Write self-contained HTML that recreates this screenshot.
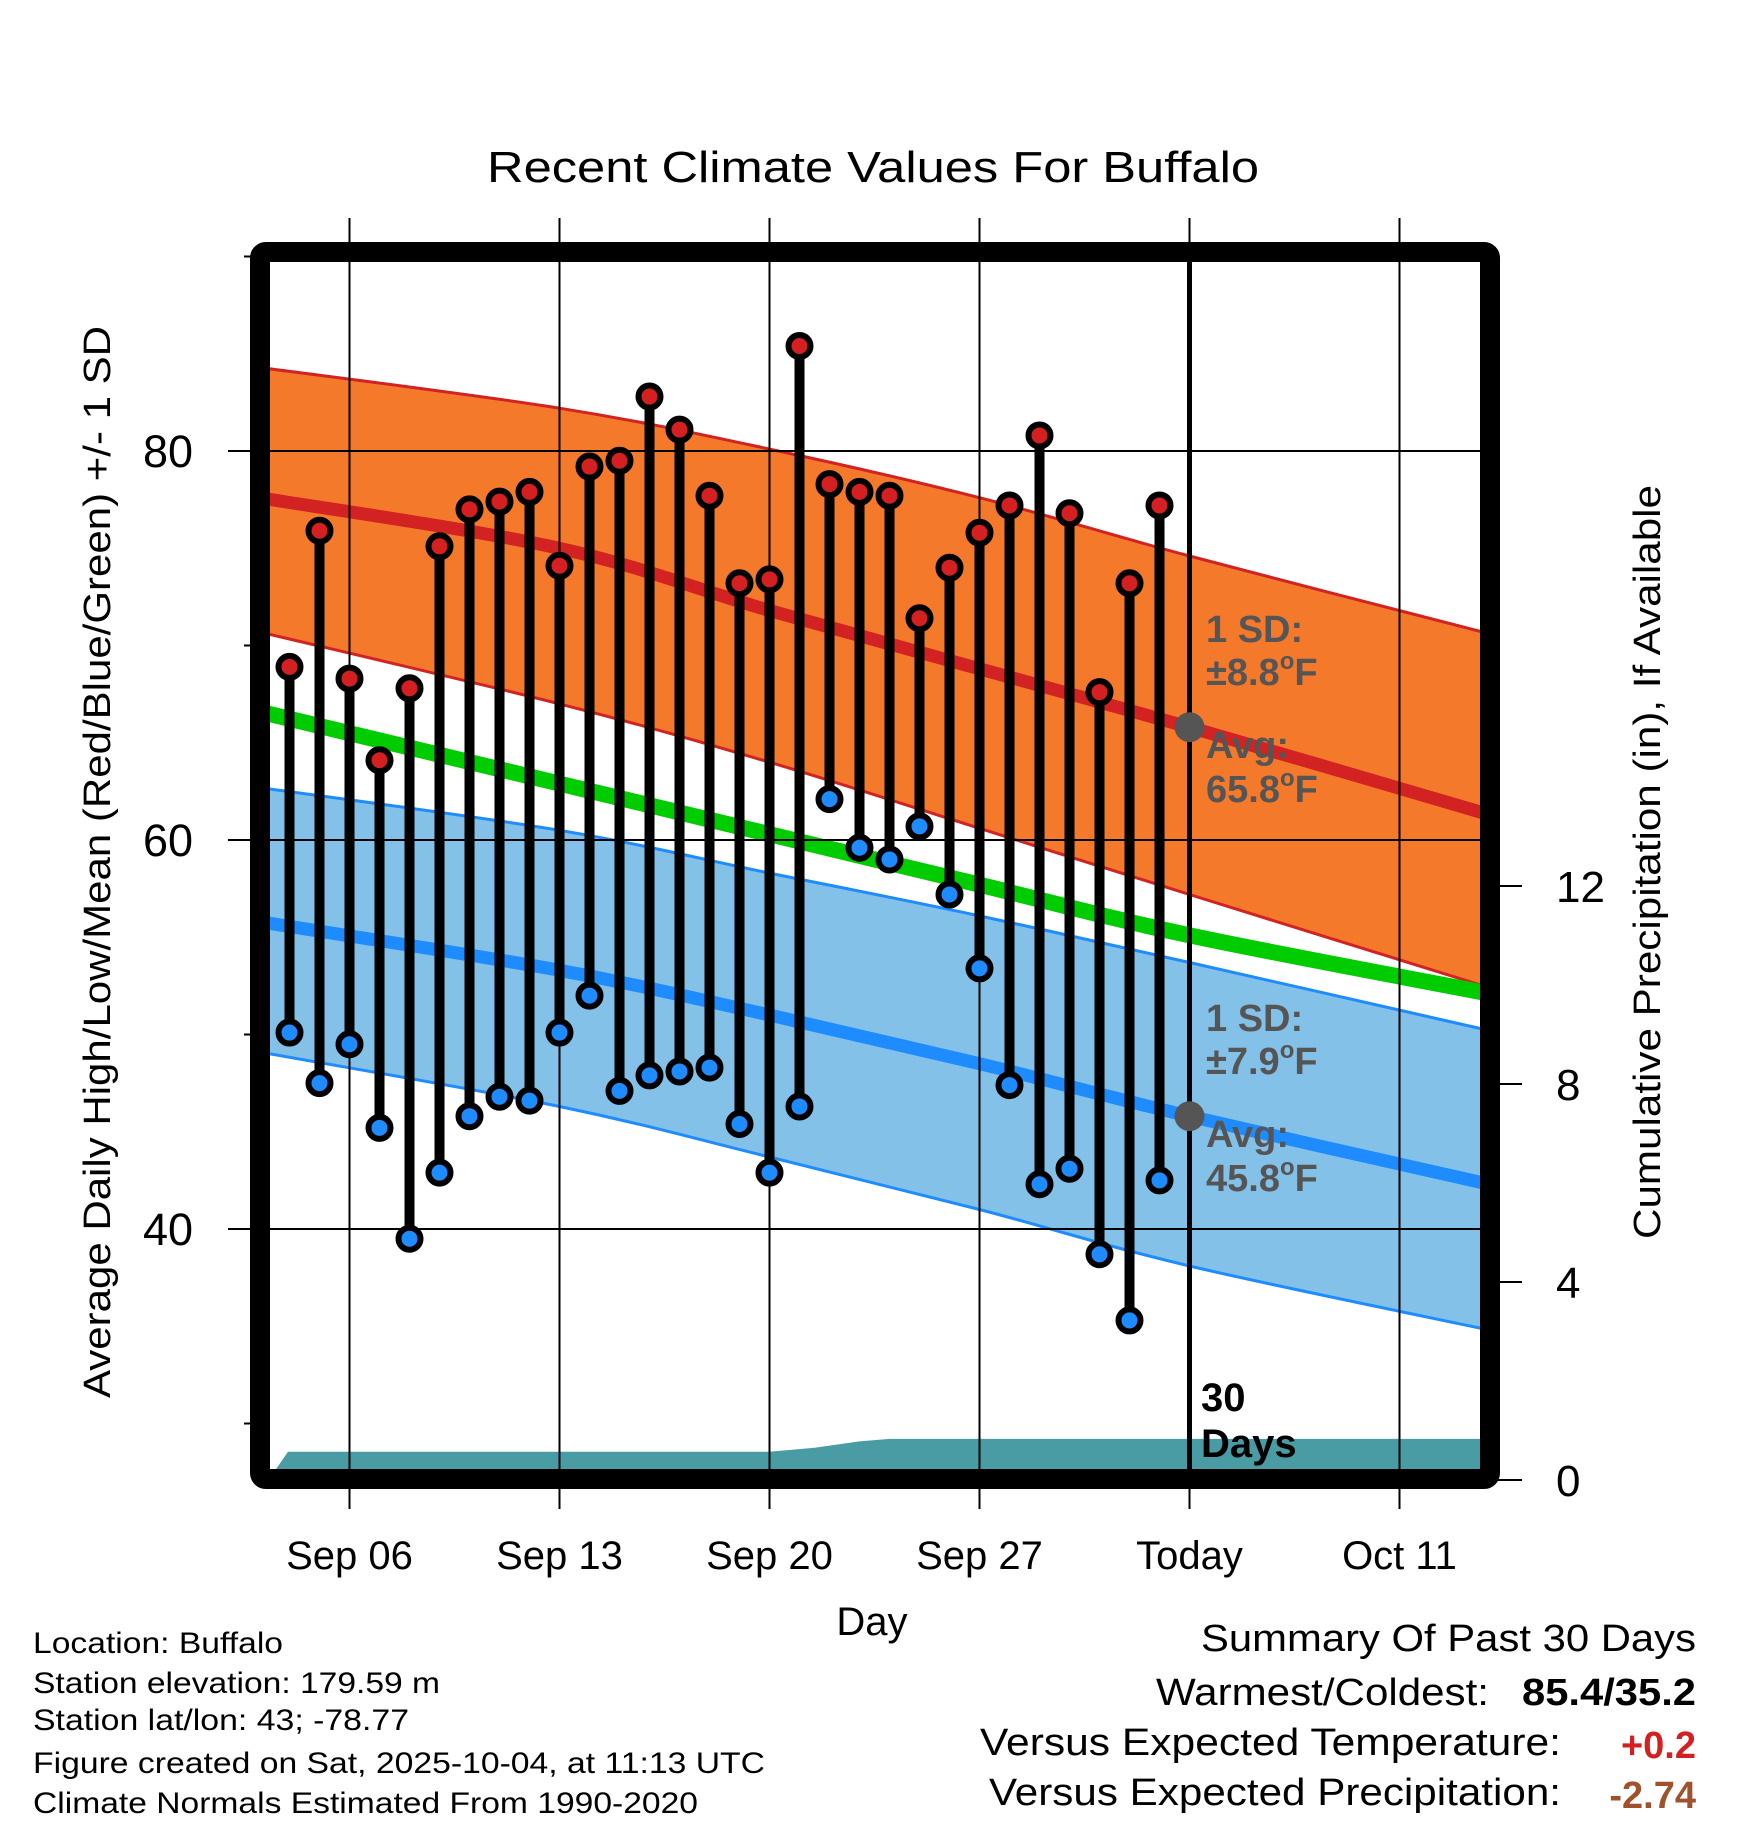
<!DOCTYPE html>
<html><head><meta charset="utf-8"><style>
html,body{margin:0;padding:0;background:#fff}
svg{display:block;font-family:"Liberation Sans",sans-serif}
</style></head><body>
<svg id="chart" width="1748" height="1828" viewBox="0 0 1748 1828" xmlns="http://www.w3.org/2000/svg">
<defs><clipPath id="plotclip"><rect x="270" y="262" width="1210" height="1207"/></clipPath></defs>
<text x="873" y="182" font-size="44" text-anchor="middle" textLength="772" lengthAdjust="spacingAndGlyphs">Recent Climate Values For Buffalo</text>
<g id="plot" clip-path="url(#plotclip)"></g>
<g id="overlay"></g>
<rect x="260" y="252" width="1230" height="1227" rx="6" fill="none" stroke="#000" stroke-width="20"/>
<g id="axes"></g>
<text x="872" y="1635" font-size="40" text-anchor="middle">Day</text>
<text transform="translate(110,862) rotate(-90)" font-size="38" text-anchor="middle" textLength="1072" lengthAdjust="spacingAndGlyphs">Average Daily High/Low/Mean (Red/Blue/Green) +/- 1 SD</text>
<text transform="translate(1660,862) rotate(-90)" font-size="38" text-anchor="middle" textLength="754" lengthAdjust="spacingAndGlyphs">Cumulative Precipitation (in), If Available</text>
<g font-size="30">
<text x="33" y="1653" textLength="250" lengthAdjust="spacingAndGlyphs">Location: Buffalo</text>
<text x="33" y="1693" textLength="407" lengthAdjust="spacingAndGlyphs">Station elevation: 179.59 m</text>
<text x="33" y="1730" textLength="376" lengthAdjust="spacingAndGlyphs">Station lat/lon: 43; -78.77</text>
<text x="33" y="1773" textLength="732" lengthAdjust="spacingAndGlyphs">Figure created on Sat, 2025-10-04, at 11:13 UTC</text>
<text x="33" y="1813" textLength="665" lengthAdjust="spacingAndGlyphs">Climate Normals Estimated From 1990-2020</text>
</g>
<g font-size="38">
<text x="1696" y="1651" text-anchor="end" textLength="495" lengthAdjust="spacingAndGlyphs">Summary Of Past 30 Days</text>
<text x="1489" y="1705" text-anchor="end" textLength="333" lengthAdjust="spacingAndGlyphs">Warmest/Coldest:</text>
<text x="1696" y="1705" text-anchor="end" font-weight="bold" textLength="174" lengthAdjust="spacingAndGlyphs">85.4/35.2</text>
<text x="1561" y="1755" text-anchor="end" textLength="581" lengthAdjust="spacingAndGlyphs">Versus Expected Temperature:</text>
<text x="1696" y="1758" text-anchor="end" font-weight="bold" fill="#d42020">+0.2</text>
<text x="1561" y="1805" text-anchor="end" textLength="572" lengthAdjust="spacingAndGlyphs">Versus Expected Precipitation:</text>
<text x="1696" y="1808" text-anchor="end" font-weight="bold" fill="#a0522d">-2.74</text>
</g>
</svg>
<script>
// ---- data ----
const obsDays = [-2,-1,0,1,2,3,4,5,6,7,8,9,10,11,12,13,14,15,16,17,18,19,20,21,22,23,24,25,26,27]; // days since Sep 06
const highs = [68.9,75.9,68.3,64.1,67.8,75.1,77.0,77.4,77.9,74.1,79.2,79.5,82.8,81.1,77.7,73.2,73.4,85.4,78.3,77.9,77.7,71.4,74.0,75.8,77.2,80.8,76.8,67.6,73.2,77.2];
const lows = [50.1,47.5,49.5,45.2,39.5,42.9,45.8,46.8,46.6,50.1,52.0,47.1,47.9,48.1,48.3,45.4,42.9,46.3,62.1,59.6,59.0,60.7,57.2,53.4,47.4,42.3,43.1,38.7,35.3,42.5];
const normDays = [-3,7,14,21,28,38];
const highUpper = [84.3,82.2,80.1,77.6,74.6,70.6];
const highAvg = [77.6,75.0,71.8,68.8,65.8,61.3];
const highLower = [70.7,67.0,64.0,60.6,57.2,52.4];
const meanAvg = [66.6,62.9,60.3,57.7,55.1,52.1];
const lowUpper = [62.7,60.5,58.3,56.1,53.7,50.2];
const lowAvg = [55.8,53.3,51.0,48.5,45.8,42.3];
const lowLower = [49.1,46.3,43.7,41.0,38.1,34.8];
const precipDays = [-2.7,-2.05,14,15.5,17,18,28,38];
const precipVals = [0,0.57,0.57,0.65,0.78,0.83,0.83,0.83];
const xTickDays = [0,7,14,21,28,35];
const xTickLabels = ["Sep 06","Sep 13","Sep 20","Sep 27","Today","Oct 11"];
const yMajor = [40,60,80];
const yMinor = [30,50,70,90];
const y2Ticks = [0,4,8,12];
const todayDay = 28;
// ---- scales ----
const NS="http://www.w3.org/2000/svg";
const X = d => 349.5 + d*30;
const Y = t => 451 - (t-80)*19.45;
const Y2 = p => 1480 - p*49.5;
const plot=document.getElementById('plot'), ov=document.getElementById('overlay'), ax=document.getElementById('axes');
function mk(tag, attrs, parent){const e=document.createElementNS(NS,tag);for(const k in attrs)e.setAttribute(k,attrs[k]);parent.appendChild(e);return e;}
function pts(days, vals, fy){return days.map((d,i)=>X(d).toFixed(1)+','+fy(vals[i]).toFixed(1));}
// Catmull-Rom smooth path through points
function smoothPts(vals){
  const P = normDays.map((d,i)=>[X(d),Y(vals[i])]);
  let s = 'M'+P[0][0].toFixed(1)+','+P[0][1].toFixed(1);
  for(let i=0;i<P.length-1;i++){
    const p0=P[Math.max(0,i-1)],p1=P[i],p2=P[i+1],p3=P[Math.min(P.length-1,i+2)];
    const c1=[p1[0]+(p2[0]-p0[0])/6,p1[1]+(p2[1]-p0[1])/6];
    const c2=[p2[0]-(p3[0]-p1[0])/6,p2[1]-(p3[1]-p1[1])/6];
    s+=' C'+c1[0].toFixed(1)+','+c1[1].toFixed(1)+' '+c2[0].toFixed(1)+','+c2[1].toFixed(1)+' '+p2[0].toFixed(1)+','+p2[1].toFixed(1);
  }
  return s;
}
function smoothRev(vals){
  const P = normDays.map((d,i)=>[X(d),Y(vals[i])]).reverse();
  let s = ' L'+P[0][0].toFixed(1)+','+P[0][1].toFixed(1);
  for(let i=0;i<P.length-1;i++){
    const p0=P[Math.max(0,i-1)],p1=P[i],p2=P[i+1],p3=P[Math.min(P.length-1,i+2)];
    const c1=[p1[0]+(p2[0]-p0[0])/6,p1[1]+(p2[1]-p0[1])/6];
    const c2=[p2[0]-(p3[0]-p1[0])/6,p2[1]-(p3[1]-p1[1])/6];
    s+=' C'+c1[0].toFixed(1)+','+c1[1].toFixed(1)+' '+c2[0].toFixed(1)+','+c2[1].toFixed(1)+' '+p2[0].toFixed(1)+','+p2[1].toFixed(1);
  }
  return s+' Z';
}
function band(up, lo, fill, name){
  const e = mk('path',{d:smoothPts(up)+smoothRev(lo),fill:fill},plot);
  
  
}
function line(vals, color, w, name){
  const e = mk('path',{d:smoothPts(vals),fill:'none',stroke:color,'stroke-width':w},plot);
  
  
}
band(highUpper, highLower, '#f5792b', 'high-sd-band');
band(lowUpper, lowLower, '#83c1e8', 'low-sd-band');
line(highUpper,'#d22222',3,'high-upper-edge');
line(highLower,'#d22222',3,'high-lower-edge');
line(lowUpper,'#1e8cff',3,'low-upper-edge');
line(lowLower,'#1e8cff',3,'low-lower-edge');
line(highAvg,'#d22222',13,'high-normal-line');
line(lowAvg,'#1e8cff',13,'low-normal-line');
line(meanAvg,'#00cc00',16,'mean-normal-line');
// precip
{
  const p = pts(precipDays, precipVals, Y2);
  p.push(X(precipDays[precipDays.length-1]).toFixed(1)+','+Y2(0), X(precipDays[0]).toFixed(1)+','+Y2(0));
  const e = mk('polygon',{points:p.join(' '),fill:'#4a9ca4'},plot);
  
  
}
// grid
yMajor.forEach(t=>{
  const e = mk('line',{x1:228,x2:1480,y1:Y(t),y2:Y(t),stroke:'#000','stroke-width':2},ov);
  
  
  const l = mk('text',{x:193,y:Y(t)+16,'font-size':45,'text-anchor':'end'},ax);
  l.textContent=t;
  
  
});
yMinor.forEach(t=>{
  const e = mk('line',{x1:244,x2:262,y1:Y(t),y2:Y(t),stroke:'#000','stroke-width':2},ax);
  
  
});
xTickDays.forEach((d,i)=>{
  const e = mk('line',{x1:X(d),x2:X(d),y1:218,y2:1509,stroke:'#000','stroke-width':2},ov);
  
  
  const l = mk('text',{x:X(d),y:1569,'font-size':40,'text-anchor':'middle'},ax);
  l.textContent=xTickLabels[i];
  
  
});
y2Ticks.forEach(p=>{
  const e = mk('line',{x1:1490,x2:1522,y1:Y2(p),y2:Y2(p),stroke:'#000','stroke-width':2},ax);
  
  
  const l = mk('text',{x:1556,y:Y2(p)+16,'font-size':44},ax);
  l.textContent=p;
  
  
});
// today line
{
  const e = mk('line',{x1:X(todayDay),x2:X(todayDay),y1:262,y2:1469,stroke:'#000','stroke-width':5},ov);
  
  
}
// stems & markers
obsDays.forEach((d,i)=>{
  const s = mk('line',{x1:X(d),x2:X(d),y1:Y(highs[i]),y2:Y(lows[i]),stroke:'#000','stroke-width':10},ov);
  
  
});
obsDays.forEach((d,i)=>{
  const h = mk('circle',{cx:X(d),cy:Y(highs[i]),r:11,fill:'#d42020',stroke:'#000','stroke-width':6},ov);
  
  
  const l = mk('circle',{cx:X(d),cy:Y(lows[i]),r:11,fill:'#1e8cff',stroke:'#000','stroke-width':6},ov);
  
  
});
// today normal dots and labels
function interp(vals,d){for(let i=0;i<normDays.length-1;i++){if(d>=normDays[i]&&d<=normDays[i+1]){const f=(d-normDays[i])/(normDays[i+1]-normDays[i]);return vals[i]+f*(vals[i+1]-vals[i]);}}return vals[vals.length-1];}
[[highAvg,'8.8','65.8','high'],[lowAvg,'7.9','45.8','low']].forEach(([vals,sd,avg,nm])=>{
  const cy = Y(interp(vals,todayDay));
  const c = mk('circle',{cx:X(todayDay),cy:cy,r:15,fill:'#555'},ov);
  
  
  const g = mk('g',{'font-size':38,'font-weight':'bold',fill:'#555'},ov);
  
  
  const lines=[['1 SD:',-85],['±'+sd,-42],['Avg:',31],[avg,75]];
  lines.forEach(([t,dy],k)=>{
    const e = mk('text',{x:1206,y:cy+dy},g);
    e.textContent=t;
    if(k==1||k==3){const sp=mk('tspan',{'font-size':24,dy:-16},e);sp.textContent='o';const sp2=mk('tspan',{dy:16},e);sp2.textContent='F';}
  });
});
{
  const g = mk('g',{'font-size':40,'font-weight':'bold'},ov);
  
  
  const a = mk('text',{x:1201,y:1411},g); a.textContent='30';
  const b = mk('text',{x:1201,y:1457},g); b.textContent='Days';
}
</script>
</body></html>
